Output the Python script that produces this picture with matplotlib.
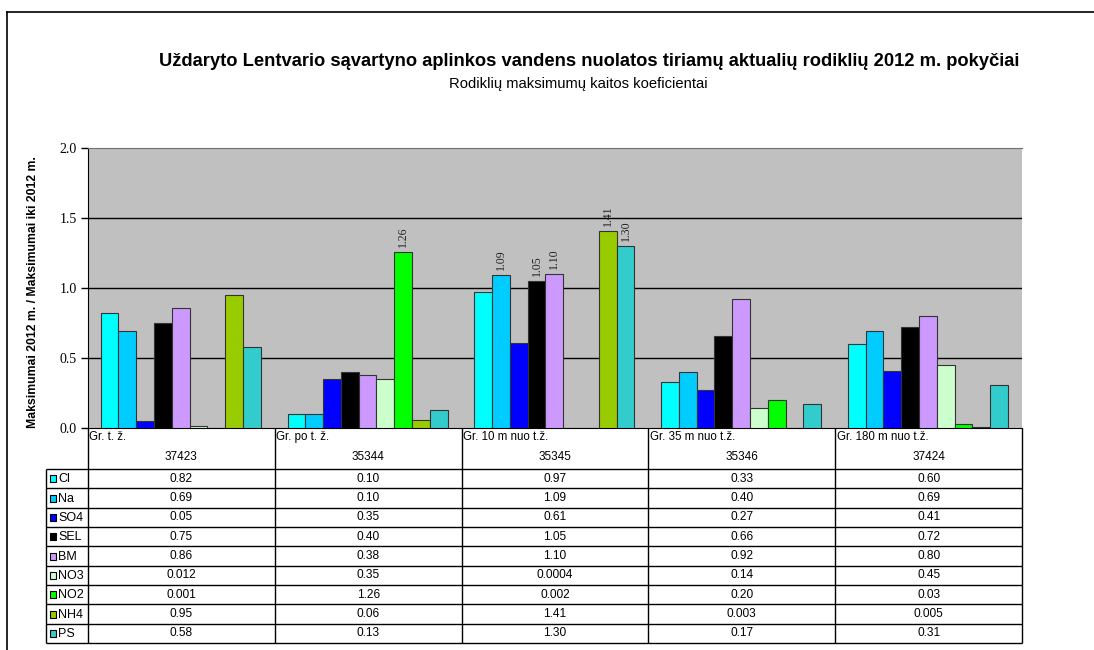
import numpy as np
import matplotlib
matplotlib.use('Agg')
import matplotlib.pyplot as plt
from matplotlib.lines import Line2D
from matplotlib.patches import Rectangle

plt.rcParams['font.family'] = ['Liberation Sans', 'DejaVu Sans']

# site names and codes (table header)
sites = ['Gr. t. ž.', 'Gr. po t. ž.', 'Gr. 10 m nuo t.ž.', 'Gr. 35 m nuo t.ž.', 'Gr. 180 m nuo t.ž.']
codes = ['37423', '35344', '35345', '35346', '37424']

# indicators, one series each
indicators = ['Cl', 'Na', 'SO4', 'SEL', 'BM', 'NO3', 'NO2', 'NH4', 'PS']
colors = ['#00FFFF', '#00CCFF', '#0000FF', '#000000', '#CC99FF',
          '#CCFFCC', '#00FF00', '#99CC00', '#33CCCC']

# coefficients per indicator, as printed in the table (one value per site)
cl = ['0.82', '0.10', '0.97', '0.33', '0.60']
na = ['0.69', '0.10', '1.09', '0.40', '0.69']
so4 = ['0.05', '0.35', '0.61', '0.27', '0.41']
sel = ['0.75', '0.40', '1.05', '0.66', '0.72']
bm = ['0.86', '0.38', '1.10', '0.92', '0.80']
no3 = ['0.012', '0.35', '0.0004', '0.14', '0.45']
no2 = ['0.001', '1.26', '0.002', '0.20', '0.03']
nh4 = ['0.95', '0.06', '1.41', '0.003', '0.005']
ps = ['0.58', '0.13', '1.30', '0.17', '0.31']
table_rows = [cl, na, so4, sel, bm, no3, no2, nh4, ps]

W, H = 1094, 650
fig = plt.figure(figsize=(W / 100, H / 100), dpi=100)


def fbox(x0, y0, x1, y1):
    # pixel box (top-left origin) -> figure fraction rect
    return [x0 / W, 1 - y1 / H, (x1 - x0) / W, (y1 - y0) / H]


# outer frame (left and top only)
fig.add_artist(Line2D([7 / W, 7 / W], [0, 1 - 12 / H], color='black', lw=1.2))
fig.add_artist(Line2D([7 / W, 1], [1 - 12 / H, 1 - 12 / H], color='black', lw=1.2))

fig.text(589 / W, 1 - 62 / H,
         'Uždaryto Lentvario sąvartyno aplinkos vandens nuolatos tiriamų aktualių rodiklių 2012 m. pokyčiai',
         ha='center', va='center', fontsize=13.2, fontweight='bold')
fig.text(578 / W, 1 - 84 / H, 'Rodiklių maksimumų kaitos koeficientai',
         ha='center', va='center', fontsize=10.6)

# ---- bar chart ----
ax = fig.add_axes(fbox(88, 148, 1022, 428))
ax.set_facecolor('#C0C0C0')
n_ind = len(indicators)
bar_w = 0.0952
offset = 0.068
for i, (name, col, vals) in enumerate(zip(indicators, colors, table_rows)):
    heights = [float(v) for v in vals]
    xs = np.arange(len(sites)) + offset + (i + 0.5) * bar_w
    ax.bar(xs, heights, width=bar_w, color=col, edgecolor='#333333',
           linewidth=0.8, zorder=3)
    for x, h in zip(xs, heights):
        if h > 1:
            ax.text(x, h + 0.035, f'{h:.2f}', rotation=90, ha='center', va='bottom',
                    fontsize=8.5, family='Liberation Serif', color='#222222', zorder=4)

ax.set_xlim(0, len(sites))
ax.set_ylim(0, 2.0)
ax.set_yticks([0, 0.5, 1.0, 1.5, 2.0])
ax.set_yticklabels(['0.0', '0.5', '1.0', '1.5', '2.0'], family='Liberation Serif', fontsize=10)
ax.set_xticks([])
ax.tick_params(axis='y', direction='out', length=5, width=1, pad=3)
for y in [0.5, 1.0, 1.5]:
    ax.axhline(y, color='black', lw=1, zorder=1)
ax.spines['top'].set_color('#707070')
ax.spines['right'].set_visible(False)
ax.spines['left'].set_color('black')
ax.spines['bottom'].set_color('black')

fig.text(33 / W, 1 - 292 / H, 'Maksimumai 2012 m. / Maksimumai iki 2012 m.',
         rotation=90, ha='center', va='center', fontsize=8.8, fontweight='bold')

# ---- data table below the chart ----
left_px = 46
x_left = -(88 - left_px) / ((1022 - 88) / len(sites))
tab = fig.add_axes(fbox(left_px, 428, 1022, 643))
tab.set_xlim(x_left, len(sites))
head_h = 41
row_h = (215 - head_h) / n_ind
tab.set_ylim(215, 0)
tab.axis('off')

lc = dict(color='black', lw=1, solid_capstyle='butt', clip_on=False)
for k in range(n_ind + 1):
    y = head_h + k * row_h
    tab.plot([x_left, len(sites)], [y, y], **lc)
tab.plot([x_left, x_left], [head_h, 215], **lc)
for g in range(len(sites) + 1):
    tab.plot([g, g], [0, 215], **lc)

for g, (s, c) in enumerate(zip(sites, codes)):
    tab.text(g + 0.008, 9, s, ha='left', va='center', fontsize=8.3)
    tab.text(g + 0.5, 29, c, ha='center', va='center', fontsize=8.5)

sq = 0.036
for i, (name, col, vals) in enumerate(zip(indicators, colors, table_rows)):
    yc = head_h + (i + 0.5) * row_h
    tab.add_patch(Rectangle((x_left + 0.02, yc - 3.5), sq, 7, facecolor=col,
                            edgecolor='black', lw=0.8))
    tab.text(x_left + 0.065, yc + 0.5, name, ha='left', va='center', fontsize=9)
    for g, v in enumerate(vals):
        tab.text(g + 0.5, yc, v, ha='center', va='center', fontsize=8.6)

fig.savefig('out.png', dpi=100)
